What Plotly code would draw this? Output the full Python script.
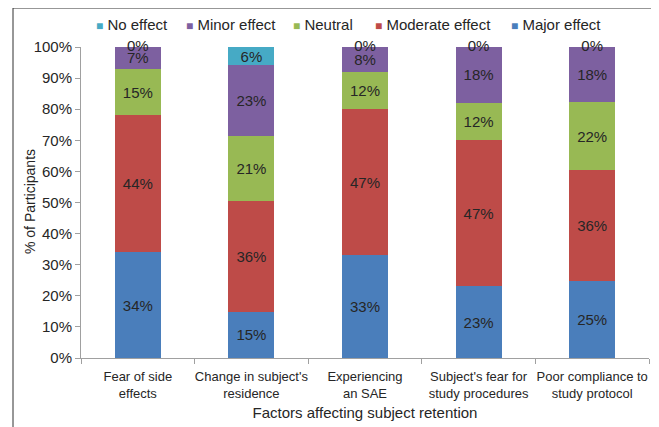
import plotly.graph_objects as go
import numpy as np

categories = ["Fear of side<br>effects", "Change in subject's<br>residence", "Experiencing<br>an SAE",
              "Subject's fear for<br>study procedures", "Poor compliance to<br>study protocol"]
major = [34, 15, 33, 23, 25]
moderate = [44, 36, 47, 47, 36]
neutral = [15, 21, 12, 12, 22]
minor = [7, 23, 8, 18, 18]
no_effect = [0, 6, 0, 0, 0]

series = [
    ("Major effect", major, "#4A7EBB"),
    ("Moderate effect", moderate, "#BE4B48"),
    ("Neutral", neutral, "#98B954"),
    ("Minor effect", minor, "#7D60A0"),
    ("No effect", no_effect, "#46AAC5"),
]

FONT = "Liberation Sans, Arial, sans-serif"
TXT = "#262626"
# page body has an 8px margin; figure coords = reference px - 8
OFF = 8
L, R, T, B = 81 - OFF, 649 - OFF, 47 - OFF, 358 - OFF
W, H = 659 - OFF, 427 - OFF
PW, PH = R - L, B - T


def px(x):
    return (x - OFF - L) / PW


def py(y):
    return (B - (y - OFF)) / PH


fig = go.Figure()

totals = np.sum([s[1] for s in series], axis=0)
cum = np.zeros(len(categories))
zx, zy, zt = [], [], []
for name, vals, color in series:
    vals = np.array(vals, dtype=float)
    norm = vals / totals * 100
    texts = [f"{int(v)}%" if v > 0 else "" for v in vals]
    fig.add_trace(go.Bar(
        name=name, x=categories, y=vals, marker=dict(color=color, line=dict(width=0)),
        text=texts, textposition="inside", insidetextanchor="middle",
        constraintext="none", textangle=0, showlegend=False, cliponaxis=False,
        textfont=dict(family=FONT, size=15, color=TXT),
    ))
    for i, v in enumerate(vals):
        if v == 0:
            zx.append(categories[i]); zy.append(cum[i] + norm[i] / 2); zt.append("0%")
    cum += norm

fig.add_trace(go.Scatter(x=zx, y=zy, text=zt, mode="text", showlegend=False,
                         textposition="middle center", cliponaxis=False,
                         textfont=dict(family=FONT, size=15, color=TXT),
                         hoverinfo="skip"))

# legend drawn as text (Excel-style small squares), order reversed as in reference
legend_left_px = [94, 184, 291, 373, 509]
annotations = []
for (name, vals, color), xpx in zip(series[::-1], legend_left_px):
    annotations.append(dict(
        xref="paper", yref="paper", x=px(xpx), y=py(24),
        xanchor="left", yanchor="middle", showarrow=False,
        text=f"<span style='color:{color};font-size:12px'>■</span> {name}",
        font=dict(family=FONT, size=15, color=TXT),
    ))
annotations.append(dict(
    xref="paper", yref="paper", x=px(30), y=py(202), textangle=-90,
    xanchor="center", yanchor="middle", showarrow=False,
    text="% of Participants", font=dict(family=FONT, size=14, color=TXT),
))

fig.update_layout(
    width=W, height=H,
    barmode="stack", barnorm="percent", bargap=0.595,
    margin=dict(l=L, r=W - R, t=T, b=H - B),
    paper_bgcolor="white", plot_bgcolor="white",
    font=dict(family=FONT, size=15, color=TXT),
    showlegend=False,
    annotations=annotations,
    xaxis=dict(showline=True, linecolor="#A0A0A0", linewidth=1, ticks="outside",
               tickson="boundaries", ticklen=5, tickcolor="#A0A0A0", tickangle=0,
               ticklabelstandoff=6,
               tickfont=dict(family=FONT, size=13, color=TXT),
               title=dict(text="Factors affecting subject retention", standoff=7,
                          font=dict(family=FONT, size=15, color=TXT)),
               showgrid=False, fixedrange=True, automargin=False),
    yaxis=dict(range=[0, 100], dtick=10, ticksuffix="%", showline=True, linecolor="#A0A0A0",
               linewidth=1, ticks="outside", ticklen=5, tickcolor="#A0A0A0",
               tickfont=dict(family=FONT, size=15, color=TXT),
               showgrid=False, zeroline=False, fixedrange=True, automargin=False),
    shapes=[dict(type="rect", xref="paper", yref="paper",
                 x0=px(13), x1=px(657),
                 y0=py(440), y1=py(8),
                 line=dict(color="#303030", width=1), fillcolor="rgba(0,0,0,0)", layer="below")],
)

fig.write_html("out.html")
